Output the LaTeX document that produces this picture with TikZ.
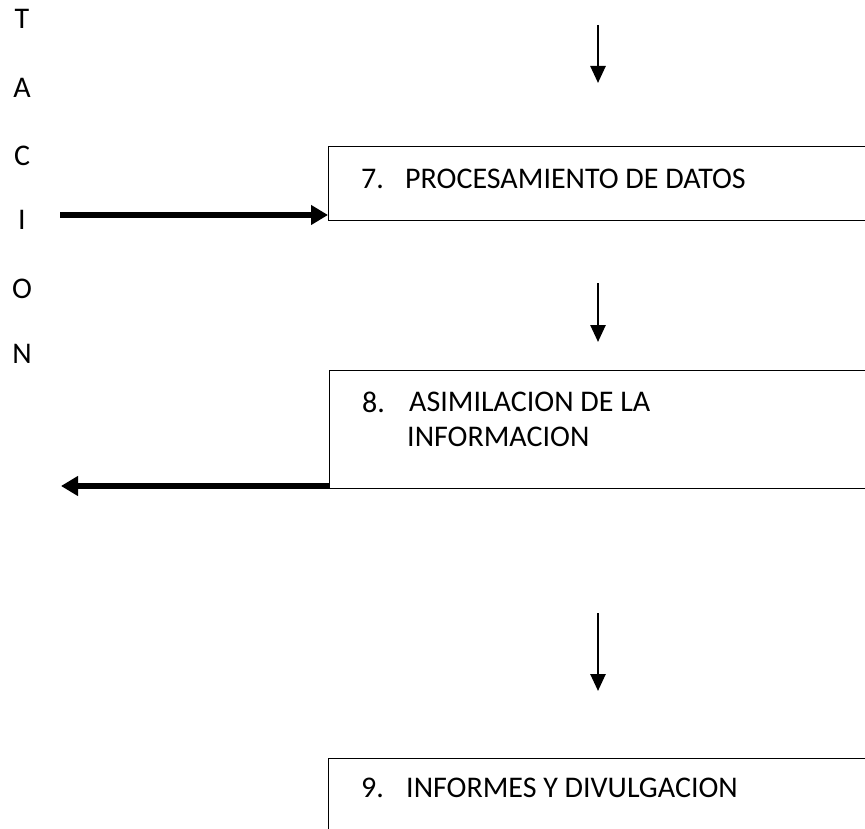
\documentclass[tikz,border=0pt]{standalone}
\usepackage{fontspec}
\setmainfont{Carlito}
\usetikzlibrary{arrows.meta}
\begin{document}
\begin{tikzpicture}[x=1pt,y=1pt,
  stepbox/.style={draw,line width=1.4pt,anchor=north west,inner sep=0pt},
  lbl/.style={anchor=west,inner sep=0pt,font=\fontsize{30}{36}\selectfont},
  vert/.style={anchor=center,inner sep=0pt,font=\fontsize{30}{36}\selectfont},
  thin/.style={line width=2.6pt,-{Triangle[length=17pt,width=15pt]}},
  thick/.style={line width=6pt,-{Triangle[length=17pt,width=19pt]}}]
\useasboundingbox (0,0) rectangle (865,-829);
\clip (0,0) rectangle (865,-829);
% vertical letters
\node[vert] (lT) at (22,-19) {T};
\node[vert] (lA) at (22,-88) {A};
\node[vert] (lC) at (22,-156) {C};
\node[vert] (lI) at (22,-220) {I};
\node[vert] (lO) at (22,-289) {O};
\node[vert] (lN) at (22,-354) {N};
% boxes
\node[stepbox,minimum width=600pt,minimum height=74pt] (b1) at (328,-146) {};
\node[stepbox,minimum width=600pt,minimum height=118pt] (b2) at (329,-370) {};
\node[stepbox,minimum width=600pt,minimum height=120pt] (b3) at (328,-758) {};
% texts
\node[lbl] (n7) at (361,-179) {7.};
\node[lbl] (t7) at (405,-179) {PROCESAMIENTO DE DATOS};
\node[lbl] (n8) at (362,-402) {8.};
\node[lbl] (t8a) at (409,-402) {ASIMILACION DE LA};
\node[lbl] (t8b) at (407,-437) {INFORMACION};
\node[lbl] (n9) at (361,-788) {9.};
\node[lbl] (t9) at (406,-788) {INFORMES Y DIVULGACION};
% free ends
\coordinate (a1s) at (598,-25);
\coordinate (a1e) at (598,-83);
\coordinate (a2s) at (598,-283);
\coordinate (a2e) at (598,-342);
\coordinate (a3s) at (598,-613);
\coordinate (a3e) at (598,-691);
\coordinate (h1s) at (60,-215);
\coordinate (h2e) at (61,-486);
\draw[thin] (a1s) -- (a1e);
\draw[thin] (a2s) -- (a2e);
\draw[thin] (a3s) -- (a3e);
\draw[thick] (h1s) -- (b1.west |- h1s);
\draw[thick] (b2.west |- h2e) -- (h2e);
\end{tikzpicture}
\end{document}
